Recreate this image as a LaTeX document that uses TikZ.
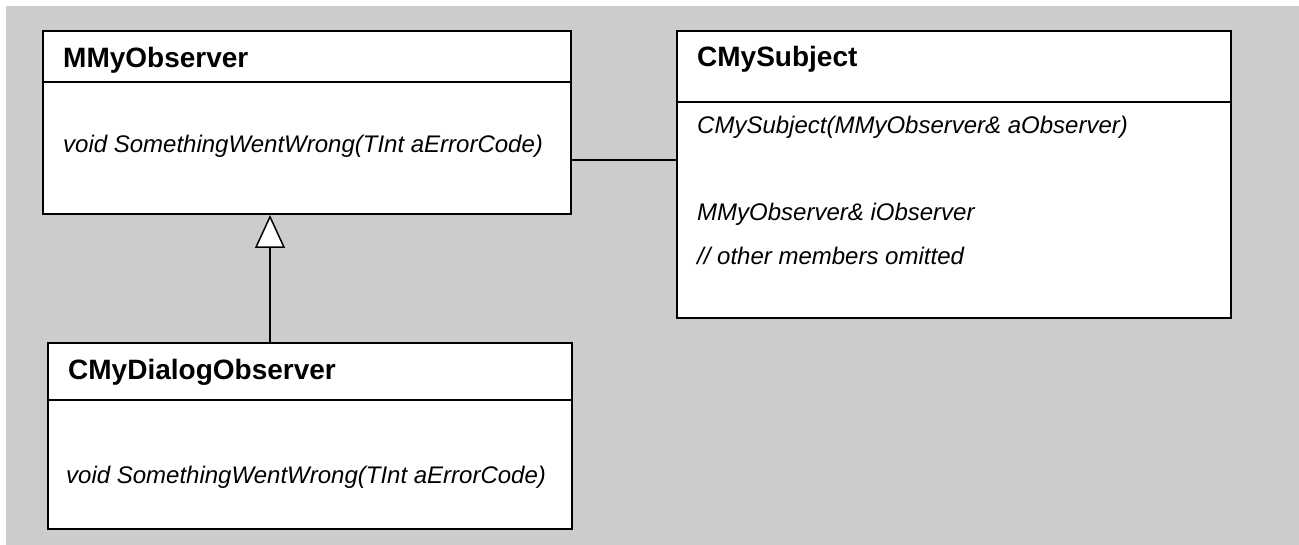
\documentclass[tikz,border=0pt]{standalone}
\usepackage{fontspec}
\setmainfont{Liberation Sans}
\usetikzlibrary{arrows.meta}
\definecolor{canvas}{HTML}{CCCCCC}
\tikzstyle{classbox}=[draw, line width=2pt, fill=white, anchor=north west, inner sep=0pt]
\tikzstyle{classname}=[anchor=base west, inner sep=0pt, font=\bfseries\fontsize{28}{34}\selectfont]
\tikzstyle{member}=[anchor=base west, inner sep=0pt, font=\itshape\fontsize{24}{29}\selectfont]
\tikzstyle{association}=[line width=1.5pt]
\tikzstyle{generalization}=[line width=1.5pt, -{Triangle[length=33pt, width=30pt, fill=white]}]

\begin{document}
\begin{tikzpicture}[x=1pt, y=-1pt]
      \useasboundingbox (0,0) rectangle (1299,545);
      \fill[canvas] (6,6) rectangle (1299,545);

      \node[classbox, minimum width=528pt, minimum height=51pt] (obs_head) at (42,30) {};
      \node[classbox, minimum width=528pt, minimum height=132pt] (obs_body) at (42,81) {};
      \node[classname] (obs_name) at (63,68) {MMyObserver};
      \node[member] (obs_op) at (63,153) {void SomethingWentWrong(TInt aErrorCode)};

      \node[classbox, minimum width=554pt, minimum height=71pt] (subj_head) at (676,30) {};
      \node[classbox, minimum width=554pt, minimum height=216pt] (subj_body) at (676,101) {};
      \node[classname] (subj_name) at (697,67) {CMySubject};
      \node[member] (subj_ctor) at (697,134) {CMySubject(MMyObserver\& aObserver)};
      \node[member] (subj_ref) at (697,221) {MMyObserver\& iObserver};
      \node[member] (subj_rest) at (697,265) {// other members omitted};

      \node[classbox, minimum width=524pt, minimum height=57pt] (dlg_head) at (47,342) {};
      \node[classbox, minimum width=524pt, minimum height=129pt] (dlg_body) at (47,399) {};
      \node[classname] (dlg_name) at (68,380) {CMyDialogObserver};
      \node[member] (dlg_op) at (66,483) {void SomethingWentWrong(TInt aErrorCode)};

      \coordinate (assoc_y) at (0,160);
      \coordinate (gen_x) at (270,0);
      \draw[association] (obs_body.east |- assoc_y)
        to (subj_body.west |- assoc_y);
      \draw[generalization] (dlg_head.north -| gen_x)
        to (obs_body.south -| gen_x);
    \end{tikzpicture}
\end{document}
